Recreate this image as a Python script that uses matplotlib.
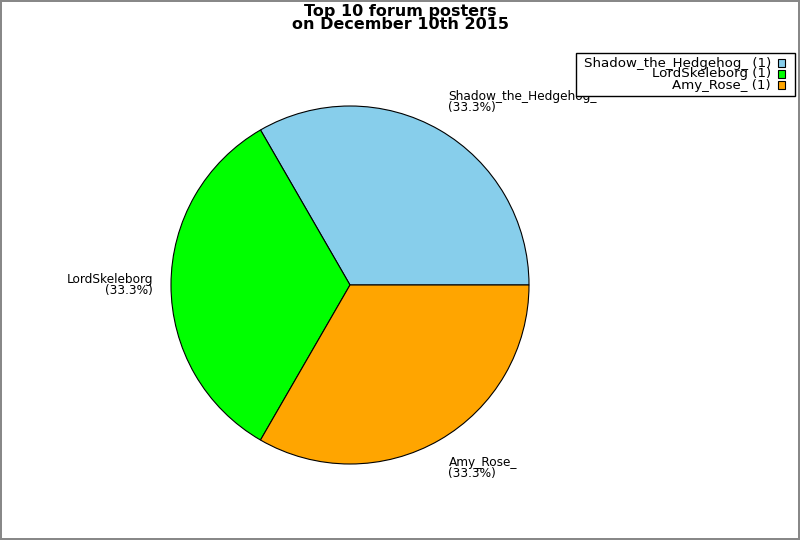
import numpy as np
import matplotlib
matplotlib.use('Agg')
import matplotlib.pyplot as plt
from matplotlib.patches import Rectangle

# data
names = ['Shadow_the_Hedgehog_', 'LordSkeleborg', 'Amy_Rose_']
posts = [1, 1, 1]
colors = ['#87CEEB', '#00FF00', '#FFA500']
title = 'Top 10 forum posters\non December 10th 2015'

W, H = 800, 540
fig = plt.figure(figsize=(W / 100, H / 100), dpi=100)
fig.patch.set_edgecolor('#888888')
fig.patch.set_linewidth(1.5)

# pie centre (350, 285) px, radius 179 px
lim = 1.2
size = 179 * 2 * lim
cx, cy = 350, H - 285
ax = fig.add_axes([(cx - size / 2) / W, (cy - size / 2) / H, size / W, size / H])
wedges, _ = ax.pie(posts, colors=colors, startangle=0, counterclock=True,
                   wedgeprops=dict(edgecolor='black', linewidth=0.8))
ax.set_xlim(-lim, lim)
ax.set_ylim(-lim, lim)
ax.set_aspect('equal')
ax.axis('off')

total = float(sum(posts))
for w, n, v in zip(wedges, names, posts):
    ang = np.deg2rad((w.theta1 + w.theta2) / 2)
    x, y = 1.1 * np.cos(ang), 1.1 * np.sin(ang)
    ha = 'left' if x > 0.01 else ('right' if x < -0.01 else 'center')
    va = 'bottom' if y > 0.01 else ('top' if y < -0.01 else 'center')
    ax.text(x, y, '%s\n(%.1f%%)' % (n, 100 * v / total), ha=ha, va=va,
            multialignment='right' if ha == 'right' else 'left',
            fontsize=8.7, linespacing=0.85)

fig.text(0.5, 1 - 4 / H, title, ha='center', va='top', fontsize=11.5,
         fontweight='bold', linespacing=0.85)

# legend drawn by hand: text right aligned, swatch on the right
lx0, lx1, ly0 = 576, 795, 53
row_h = 11
fig.patches.append(Rectangle((lx0 / W, 1 - (ly0 + 43) / H), (lx1 - lx0) / W, 43 / H,
                             transform=fig.transFigure, facecolor='white',
                             edgecolor='black', linewidth=1))
for i, (n, v, c) in enumerate(zip(names, posts, colors)):
    yc = ly0 + 10 + i * row_h
    fig.text((lx1 - 24) / W, 1 - yc / H, '%s (%d)' % (n, v), ha='right', va='center',
             fontsize=9.6)
    fig.patches.append(Rectangle(((lx1 - 17) / W, 1 - (yc + 4) / H), 7 / W, 8 / H,
                                 transform=fig.transFigure, facecolor=c,
                                 edgecolor='black', linewidth=0.8))

fig.savefig('out.png', dpi=100)
